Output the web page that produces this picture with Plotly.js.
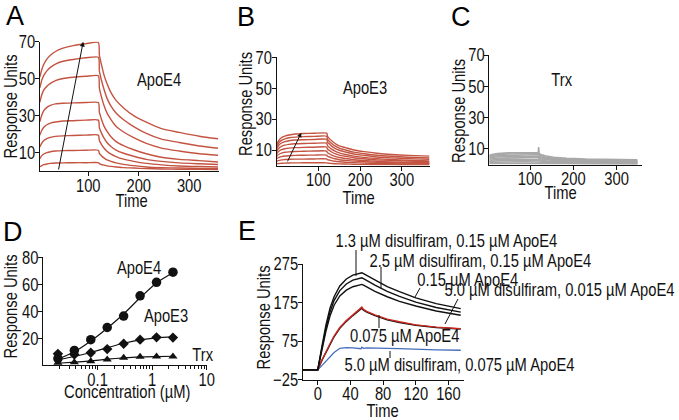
<!DOCTYPE html>
<html><head><meta charset="utf-8">
<script src="https://cdn.plot.ly/plotly-3.0.1.min.js"></script>
<style>html,body{margin:0;padding:0;background:#fff}#chart{width:679px;height:420px}</style>
</head><body><div id="chart"></div>
<script>
// ---------- DATA ----------
// Panel A (ApoE4 sensorgrams)
const A_time = [4, 8, 12, 18, 25, 35, 50, 70, 95, 120, 122, 126, 131, 137, 145, 155, 170, 190, 215, 245, 280, 320, 357];
const A_c1 = [50.7, 54.9, 57.7, 60.5, 62.6, 64.6, 66.4, 67.8, 68.8, 69.5, 62.6, 57.7, 52.1, 47.3, 42.4, 38.2, 34.1, 29.9, 26.4, 22.9, 20.9, 18.8, 17.4];
const A_c2 = [44.9, 49.2, 51.7, 54.1, 56.0, 57.8, 59.3, 60.3, 61.2, 61.5, 54.1, 49.2, 44.3, 39.4, 35.1, 31.4, 27.7, 24.0, 20.3, 17.2, 15.4, 13.5, 12.3];
const A_c3 = [37.1, 41.2, 43.8, 45.8, 47.4, 48.9, 50.0, 50.7, 51.2, 51.5, 44.8, 40.2, 35.5, 31.4, 27.8, 24.2, 21.1, 18.0, 14.9, 12.4, 10.8, 9.3, 8.5];
const A_c4 = [26.6, 30.3, 32.6, 34.4, 35.5, 36.3, 36.6, 36.8, 37.0, 37.0, 31.8, 28.1, 24.4, 21.5, 18.5, 15.9, 13.7, 11.5, 9.3, 7.4, 6.3, 5.6, 4.9];
const A_c5 = [19.3, 22.0, 23.7, 25.0, 25.9, 26.5, 27.0, 27.2, 27.5, 27.5, 23.4, 20.6, 17.9, 15.4, 13.2, 11.3, 9.6, 8.0, 6.3, 5.2, 4.4, 3.9, 3.5];
const A_c6 = [13.0, 15.1, 16.5, 17.5, 18.2, 18.7, 19.0, 19.2, 19.4, 19.4, 16.5, 14.4, 12.4, 10.7, 9.1, 7.8, 6.4, 5.2, 4.1, 3.3, 2.7, 2.4, 2.2];
const A_c7 = [6.7, 8.3, 9.2, 9.9, 10.4, 10.8, 11.0, 11.1, 11.2, 11.2, 9.5, 8.3, 7.1, 6.0, 5.2, 4.4, 3.6, 2.9, 2.2, 1.8, 1.6, 1.4, 1.3];
const A_c8 = [2.3, 2.9, 3.4, 3.8, 4.1, 4.3, 4.4, 4.5, 4.5, 4.5, 4.0, 3.5, 3.2, 2.8, 2.5, 2.2, 1.8, 1.6, 1.3, 1.1, 0.9, 0.9, 0.8];

// Panel B (ApoE3 sensorgrams)
const B_time = [0, 3, 7, 12, 20, 30, 45, 65, 90, 120, 122, 126, 132, 140, 150, 165, 185, 210, 240, 275, 315, 366];
const B_c1 = [13.0, 15.1, 16.8, 18.1, 19.1, 19.8, 20.4, 20.7, 20.9, 21.0, 18.9, 17.6, 16.0, 14.3, 12.8, 11.6, 10.1, 9.0, 8.0, 7.2, 6.6, 6.1];
const B_c2 = [11.8, 13.7, 15.2, 16.3, 17.3, 18.0, 18.4, 18.7, 18.9, 19.0, 17.0, 15.8, 14.3, 12.7, 11.3, 10.1, 8.7, 7.7, 6.7, 6.0, 5.4, 4.9];
const B_c3 = [10.5, 12.2, 13.6, 14.6, 15.5, 16.1, 16.5, 16.7, 16.9, 17.0, 15.2, 14.1, 12.6, 11.1, 9.9, 8.8, 7.5, 6.6, 5.6, 5.0, 4.5, 4.0];
const B_c4 = [9.0, 10.4, 11.6, 12.5, 13.2, 13.7, 14.1, 14.3, 14.4, 14.5, 12.9, 11.9, 10.6, 9.3, 8.2, 7.2, 6.1, 5.3, 4.5, 3.9, 3.5, 3.0];
const B_c5 = [7.4, 8.6, 9.6, 10.3, 10.9, 11.3, 11.6, 11.8, 11.9, 12.0, 10.7, 9.9, 8.8, 7.7, 6.8, 6.0, 5.1, 4.4, 3.7, 3.3, 2.9, 2.5];
const B_c6 = [5.8, 6.8, 7.5, 8.1, 8.6, 8.9, 9.1, 9.3, 9.4, 9.4, 8.3, 7.7, 6.8, 6.0, 5.2, 4.6, 3.8, 3.3, 2.8, 2.4, 2.0, 1.8];
const B_c7 = [4.2, 4.9, 5.4, 5.8, 6.2, 6.4, 6.6, 6.7, 6.8, 6.8, 6.0, 5.6, 5.0, 4.4, 3.8, 3.4, 2.9, 2.5, 2.1, 1.8, 1.6, 1.4];
const B_c8 = [2.7, 3.1, 3.4, 3.7, 3.9, 4.1, 4.2, 4.2, 4.3, 4.3, 3.8, 3.6, 3.2, 2.8, 2.5, 2.2, 1.9, 1.6, 1.4, 1.2, 1.1, 1.0];
const B_c9 = [1.1, 1.3, 1.4, 1.5, 1.6, 1.7, 1.75, 1.8, 1.8, 1.8, 1.6, 1.5, 1.4, 1.2, 1.1, 1.0, 0.85, 0.76, 0.67, 0.6, 0.54, 0.5];

// Panel C (Trx sensorgrams)
const C_time = [6, 12, 25, 50, 90, 119, 120, 121, 125, 135, 155, 185, 230, 290, 348];
const C_c1 = [5.8, 6.5, 7.1, 7.5, 7.6, 7.7, 11.2, 7.1, 6.4, 5.6, 4.7, 4.0, 3.5, 3.2, 3.0];
const C_c2 = [5.3, 5.9, 6.4, 6.8, 6.9, 7.0, 7.0, 6.4, 5.7, 4.9, 4.0, 3.4, 2.9, 2.6, 2.4];
const C_c3 = [4.7, 5.2, 5.7, 6.0, 6.1, 6.2, 6.2, 5.7, 5.1, 4.3, 3.5, 3.0, 2.5, 2.2, 2.0];
const C_c4 = [4.1, 4.5, 5.0, 5.2, 5.3, 5.4, 5.4, 5.0, 4.4, 3.8, 3.1, 2.6, 2.2, 1.9, 1.8];
const C_c5 = [3.4, 3.8, 4.1, 4.4, 4.5, 4.5, 4.5, 4.1, 3.7, 3.2, 2.6, 2.2, 1.8, 1.6, 1.5];
const C_c6 = [2.7, 3.0, 3.3, 3.5, 3.6, 3.6, 3.6, 3.3, 3.0, 2.5, 2.1, 1.7, 1.5, 1.3, 1.2];
const C_c7 = [2.0, 2.3, 2.5, 2.6, 2.7, 2.7, 2.7, 2.5, 2.2, 1.9, 1.5, 1.3, 1.1, 1.0, 0.9];
const C_c8 = [1.4, 1.5, 1.7, 1.7, 1.8, 1.8, 1.8, 1.7, 1.5, 1.3, 1.0, 0.9, 0.7, 0.6, 0.6];
const C_c9 = [0.8, 0.8, 0.9, 1.0, 1.0, 1.0, 1.0, 0.9, 0.8, 0.7, 0.6, 0.5, 0.4, 0.4, 0.3];

// Panel D (dose response)
const D_conc = [0.01875, 0.0375, 0.075, 0.15, 0.3, 0.6, 1.2, 2.4];
const D_apoE4 = [5, 11, 19, 28, 36.5, 51.5, 61.5, 69];
const D_apoE3 = [8.5, 8, 9.3, 12, 16, 19, 20.7, 20.5];
const D_trx = [1.8, 2.2, 3.0, 4.3, 5.5, 6.3, 6.6, 6.6];
const D_fitE4 = [4.5, 10, 18, 27.5, 38, 50, 61, 68.5];
const D_fitE3 = [4, 6.5, 9.5, 13, 16.3, 18.8, 20.3, 21];
const D_fitTrx = [1.5, 2.3, 3.3, 4.5, 5.5, 6.2, 6.5, 6.7];

// Panel E (disulfiram competition)
const E_time = [-18, 0, 5, 10, 15, 20, 27, 35, 43, 50, 53, 54, 56, 60, 70, 85, 100, 120, 145, 175];
const E_d13 = [0, 0, 60, 116, 160, 190, 218, 236, 246, 251, 252, 252, 250, 245, 233, 216, 203, 187, 172, 159];
const E_d25 = [0, 0, 55, 108, 150, 180, 206, 223, 233, 238, 239.5, 239, 237, 232, 220, 204, 191, 176, 162, 150];
const E_apo015 = [0, 0, 50, 100, 140, 168, 192, 207, 216, 221, 222, 222, 220, 215, 204, 190, 178, 166, 153, 142];
const E_d50_0015 = [0, 0, 25, 48, 68, 88, 110, 128, 143, 155, 162, 163, 157, 152, 143, 132, 125, 117, 111, 107];
const E_apo0075 = [0, 0, 24, 46, 66, 86, 108, 126, 141, 152, 158, 160, 155, 150, 141, 130, 123, 116, 110, 106];
const E_d50_0075 = [0, 0, 11, 23, 35, 45, 56, 58, 57, 56, 55, 59, 56, 57, 57, 56, 55, 53, 52, 51];

const E_labels = ["1.3 µM disulfiram, 0.15 µM ApoE4", "2.5 µM disulfiram, 0.15 µM ApoE4", "0.15 µM ApoE4",
  "5.0 µM disulfiram, 0.015 µM ApoE4", "0.075 µM ApoE4", "5.0 µM disulfiram, 0.075 µM ApoE4"];

// ---------- FONT ----------
function hasFont(n){
  const c=document.createElement('canvas').getContext('2d');
  const s='abcdefghijklmnopqrstuvwxyzABCDEFGHIJ0123456789';
  c.font='40px monospace'; const w1=c.measureText(s).width;
  c.font="40px '"+n+"', monospace"; const w2=c.measureText(s).width;
  return Math.abs(w1-w2)>0.5;
}
const NARROW = hasFont('Liberation Sans Narrow');
const FAM = NARROW ? "'Liberation Sans Narrow', sans-serif" : "'Liberation Sans', Arial, sans-serif";
const SQUEEZE = NARROW ? 1 : 0.82;
const FS = 18;
const TFS = 18;

// ---------- LAYOUT HELPERS ----------
const W=679, H=420;
const px = x => x/W, py = y => 1 - y/H;
const RED = 'rgb(196,84,66)';
function axisBase(isX){ return {showline:true, linecolor:'#111', linewidth:1, ticks:'outside', ticklen:4, tickwidth:1, tickcolor:'#111',
  showgrid:false, zeroline:false, tickfont:{family:FAM, size:TFS, color:'#111'}, fixedrange:true, ticklabelstandoff: isX ? -6 : -4}; }
const XA = o => Object.assign(axisBase(true), o);
const YA = o => Object.assign(axisBase(false), o);

const traces = [];
function addLines(x, ys, xa, ya, color, width){
  ys.forEach(y => traces.push({x:x, y:y, xaxis:xa, yaxis:ya, type:'scatter', mode:'lines',
    line:{color:color, width:width, shape:'spline', smoothing:0.6}, hoverinfo:'skip', showlegend:false}));
}
addLines(A_time, [A_c8, A_c7, A_c6, A_c5, A_c4, A_c3, A_c2, A_c1], 'x', 'y', RED, 1.4);
addLines(B_time, [B_c9, B_c8, B_c7, B_c6, B_c5, B_c4, B_c3, B_c2, B_c1], 'x2', 'y2', RED, 1.4);
const C_curves = [C_c9, C_c8, C_c7, C_c6, C_c5, C_c4, C_c3, C_c2, C_c1];
C_curves.forEach(y => traces.push({x:C_time, y:y, xaxis:'x3', yaxis:'y3', type:'scatter', mode:'lines',
  line:{color:'rgb(168,168,168)', width:1.6}, hoverinfo:'skip', showlegend:false}));

// D fits + markers
[D_fitE4, D_fitE3, D_fitTrx].forEach(f => traces.push({x:D_conc, y:f, xaxis:'x4', yaxis:'y4', type:'scatter', mode:'lines',
  line:{color:'#111', width:1.2, shape:'spline', smoothing:0.8}, hoverinfo:'skip', showlegend:false}));
traces.push({x:D_conc, y:D_trx, xaxis:'x4', yaxis:'y4', mode:'markers', marker:{symbol:'triangle-up', size:8, color:'#111'}, showlegend:false});
traces.push({x:D_conc, y:D_apoE3, xaxis:'x4', yaxis:'y4', mode:'markers', marker:{symbol:'diamond', size:8, color:'#111'}, showlegend:false});
traces.push({x:D_conc, y:D_apoE4, xaxis:'x4', yaxis:'y4', mode:'markers', marker:{symbol:'circle', size:9.5, color:'#111'}, showlegend:false});

// E curves
const eLine = (y,c,w) => traces.push({x:E_time, y:y, xaxis:'x5', yaxis:'y5', mode:'lines', line:{color:c, width:w}, hoverinfo:'skip', showlegend:false});
eLine(E_d50_0075, 'rgb(70,110,190)', 1.3);
eLine(E_apo0075, '#111', 1.4);
eLine(E_d50_0015, 'rgb(200,40,30)', 1.4);
eLine(E_apo015, '#111', 1.4);
eLine(E_d25, '#111', 1.4);
eLine(E_d13, '#111', 1.4);

// ---------- AXES ----------
const layout = {width:W, height:H, margin:{l:0,r:0,t:0,b:0}, paper_bgcolor:'#fff', plot_bgcolor:'rgba(0,0,0,0)',
  showlegend:false, font:{family:FAM, size:FS, color:'#111'}};

layout.xaxis  = XA({domain:[px(39.7),px(218.5)], range:[3.8,358], tickvals:[100,200,300], anchor:'y'});
layout.yaxis  = YA({domain:[py(171),py(41.5)], range:[0,70], tickvals:[10,30,50,70], anchor:'x'});
layout.xaxis2 = XA({domain:[px(276.5),px(429.5)], range:[0,366], tickvals:[100,200,300], anchor:'y2'});
layout.yaxis2 = YA({domain:[py(165.6),py(57.3)], range:[0,70], tickvals:[10,30,50,70], anchor:'x2'});
layout.xaxis3 = XA({domain:[px(489.3),px(641.7)], range:[6,358], tickvals:[100,200,300], anchor:'y3'});
layout.yaxis3 = YA({domain:[py(164.6),py(55)], range:[0,70], tickvals:[10,30,50,70], anchor:'x3'});
layout.xaxis4 = XA({domain:[px(43),px(206.8)], type:'log', range:[-2,1], tickvals:[0.1,1,10], ticktext:['0.1','1','10'], anchor:'y4',
  minor:{ticks:'outside', ticklen:2.5, tickcolor:'#111', tickvals:[0.02,0.03,0.04,0.05,0.06,0.07,0.08,0.09,0.2,0.3,0.4,0.5,0.6,0.7,0.8,0.9,2,3,4,5,6,7,8,9]}});
layout.yaxis4 = YA({domain:[py(365.3),py(257.3)], range:[0,80], tickvals:[20,40,60,80], anchor:'x4'});
layout.xaxis5 = XA({domain:[px(302.7),px(464)], range:[-18.4,179], tickvals:[0,40,80,120,160], anchor:'y5'});
layout.yaxis5 = YA({domain:[py(379.5),py(264)], range:[-25,275], tickvals:[-25,75,175,275], anchor:'x5'});

// ---------- ANNOTATIONS ----------
const ann = [];
const T = (x,y,text,opt) => ann.push(Object.assign({xref:'paper', yref:'paper', x:px(x), y:py(y), text:text, showarrow:false,
  xanchor:'center', yanchor:'middle', font:{family:FAM, size:FS, color:'#111'}}, opt||{}));
const LET = {family:"'Liberation Sans', Arial, sans-serif", size:27, color:'#000'};
T(15,16,'A',{font:LET}); T(246,17,'B',{font:LET}); T(461,17,'C',{font:LET}); T(13,232,'D',{font:LET}); T(247,231,'E',{font:LET});
// axis titles
T(11,107,'Response Units',{textangle:-90}); T(246.5,104,'Response Units',{textangle:-90}); T(459.5,111,'Response Units',{textangle:-90});
T(11,307,'Response Units',{textangle:-90}); T(264,318,'Response Units',{textangle:-90});
T(131,201,'Time'); T(358,198,'Time'); T(560,193,'Time'); T(382,411,'Time'); T(127,392,'Concentration (µM)');
// in-panel labels (data coords)
const lab = (xr,yr,x,y,s) => ann.push({xref:xr, yref:yr, x:x, y:y, text:s, showarrow:false, font:{family:FAM,size:FS,color:'#111'}});
lab('x','y',240,49,'ApoE4'); lab('x2','y2',211,50,'ApoE3'); lab('x3','y3',173,54,'Trx');
lab('x4','y4',Math.log10(0.57),72,'ApoE4'); lab('x4','y4',Math.log10(1.79),36.5,'ApoE3'); lab('x4','y4',Math.log10(8.3),7.5,'Trx');
// arrows in A and B
ann.push({xref:'x', yref:'y', axref:'x', ayref:'y', x:90, y:69.9, ax:40.6, ay:0, text:'', showarrow:true, arrowhead:2, arrowsize:1, arrowwidth:1, arrowcolor:'#111'});
ann.push({xref:'x2', yref:'y2', axref:'x2', ayref:'y2', x:59.3, y:21.3, ax:24.8, ay:1.8, text:'', showarrow:true, arrowhead:2, arrowsize:0.9, arrowwidth:1, arrowcolor:'#111'});
// E labels
const ePos = [[446,241.5],[480,261],[467,280],[559,290],[404,336],[459,364.5]];
E_labels.forEach((s,i)=>T(ePos[i][0], ePos[i][1], s));
layout.annotations = ann;

// leader lines in E
const seg = [[356,250,356,276],[381,267,381,289],[420,288,415,297],[458,299,445,324],[379,315,379,328],[390,351,390,358]];
layout.shapes = seg.map(s=>({type:'line', xref:'paper', yref:'paper', x0:px(s[0]), y0:py(s[1]), x1:px(s[2]), y1:py(s[3]), line:{color:'#111', width:1}}));

Plotly.newPlot('chart', traces, layout, {staticPlot:true, displayModeBar:false}).then(gd => {
  if (SQUEEZE === 1) return;
  gd.querySelectorAll('svg text').forEach(t => {
    const fsz = parseFloat(t.style.fontSize || t.getAttribute('font-size') || '0');
    if (fsz >= 24) return; // panel letters stay normal width
    const x = parseFloat(t.getAttribute('x') || '0'), y = parseFloat(t.getAttribute('y') || '0');
    const tr = t.getAttribute('transform') || '';
    t.setAttribute('transform', (tr + ' translate(' + x + ',' + y + ') scale(' + SQUEEZE + ',1) translate(' + (-x) + ',' + (-y) + ')').trim());
  });
});
</script></body></html>
